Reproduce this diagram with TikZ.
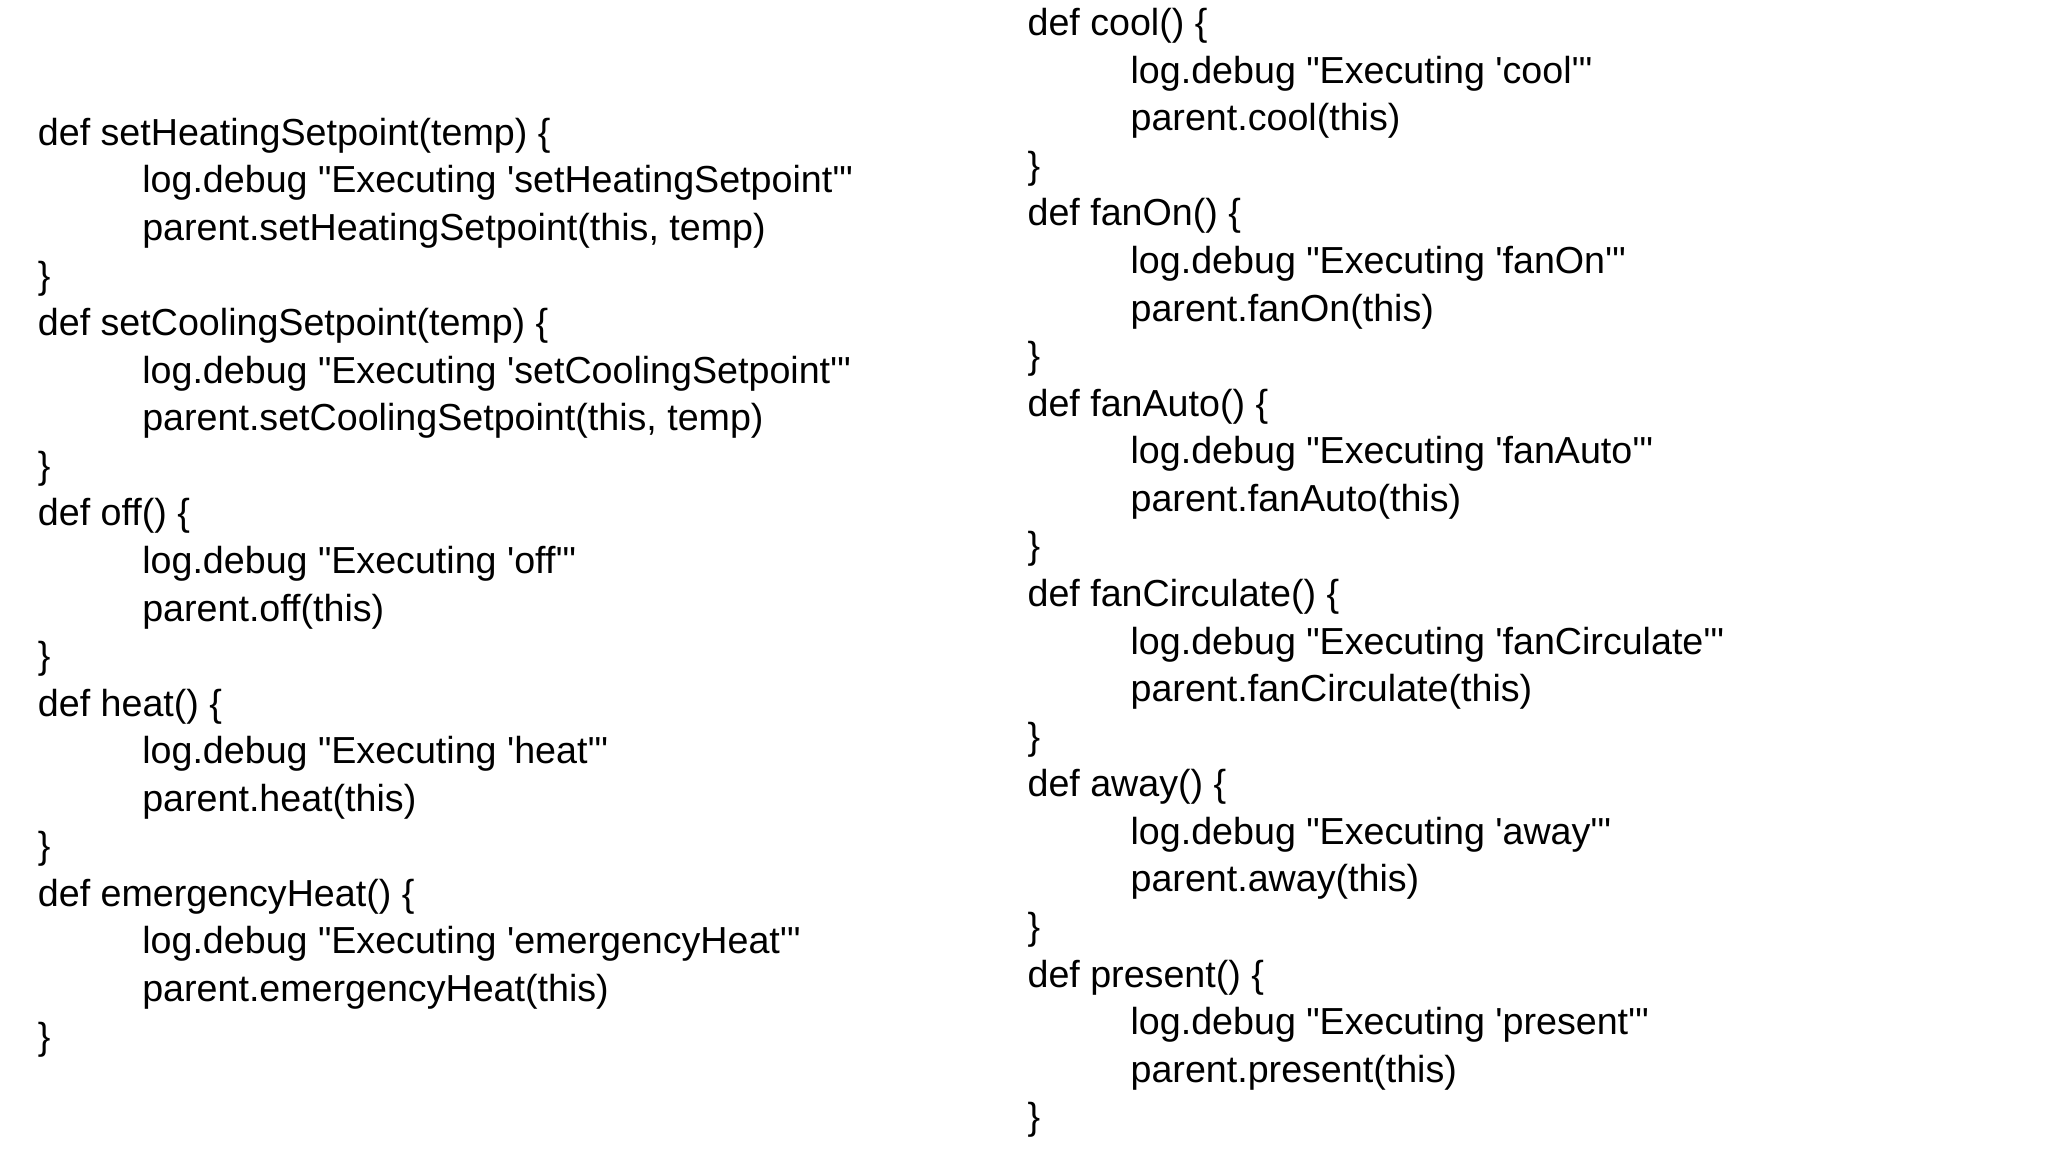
\documentclass[tikz,border=0pt]{standalone}
\usepackage{fontspec}
\setmainfont{Liberation Sans}[Ligatures=TeXOff]
\begin{document}
\begin{tikzpicture}[x=0.01cm,y=-0.01cm,
  codeline/.style={anchor=base west,inner sep=0pt,font=\fontsize{8.1pt}{9pt}\selectfont}]
\useasboundingbox (0,0) rectangle (1550,872);
\newcommand\cl[4]{\node[codeline] (#1) at (#2,#3+10) {#4};}
% left column
\cl{l1}{28}{100}{def setHeatingSetpoint(temp) \{}
\cl{l2}{107}{136}{log.debug "Executing 'setHeatingSetpoint'"}
\cl{l3}{107}{172}{parent.setHeatingSetpoint(this, temp)}
\cl{l4}{28}{208}{\}}
\cl{l5}{28}{244}{def setCoolingSetpoint(temp) \{}
\cl{l6}{107}{280}{log.debug "Executing 'setCoolingSetpoint'"}
\cl{l7}{107}{316}{parent.setCoolingSetpoint(this, temp)}
\cl{l8}{28}{352}{\}}
\cl{l9}{28}{388}{def off() \{}
\cl{l10}{107}{424}{log.debug "Executing 'off'"}
\cl{l11}{107}{460}{parent.off(this)}
\cl{l12}{28}{496}{\}}
\cl{l13}{28}{532}{def heat() \{}
\cl{l14}{107}{568}{log.debug "Executing 'heat'"}
\cl{l15}{107}{604}{parent.heat(this)}
\cl{l16}{28}{640}{\}}
\cl{l17}{28}{676}{def emergencyHeat() \{}
\cl{l18}{107}{712}{log.debug "Executing 'emergencyHeat'"}
\cl{l19}{107}{748}{parent.emergencyHeat(this)}
\cl{l20}{28}{784}{\}}
% right column
\cl{r1}{777}{17}{def cool() \{}
\cl{r2}{855}{53}{log.debug "Executing 'cool'"}
\cl{r3}{855}{89}{parent.cool(this)}
\cl{r4}{777}{125}{\}}
\cl{r5}{777}{161}{def fanOn() \{}
\cl{r6}{855}{197}{log.debug "Executing 'fanOn'"}
\cl{r7}{855}{233}{parent.fanOn(this)}
\cl{r8}{777}{269}{\}}
\cl{r9}{777}{305}{def fanAuto() \{}
\cl{r10}{855}{341}{log.debug "Executing 'fanAuto'"}
\cl{r11}{855}{377}{parent.fanAuto(this)}
\cl{r12}{777}{413}{\}}
\cl{r13}{777}{449}{def fanCirculate() \{}
\cl{r14}{855}{485}{log.debug "Executing 'fanCirculate'"}
\cl{r15}{855}{521}{parent.fanCirculate(this)}
\cl{r16}{777}{557}{\}}
\cl{r17}{777}{593}{def away() \{}
\cl{r18}{855}{629}{log.debug "Executing 'away'"}
\cl{r19}{855}{665}{parent.away(this)}
\cl{r20}{777}{701}{\}}
\cl{r21}{777}{737}{def present() \{}
\cl{r22}{855}{773}{log.debug "Executing 'present'"}
\cl{r23}{855}{809}{parent.present(this)}
\cl{r24}{777}{845}{\}}
\end{tikzpicture}
\end{document}
